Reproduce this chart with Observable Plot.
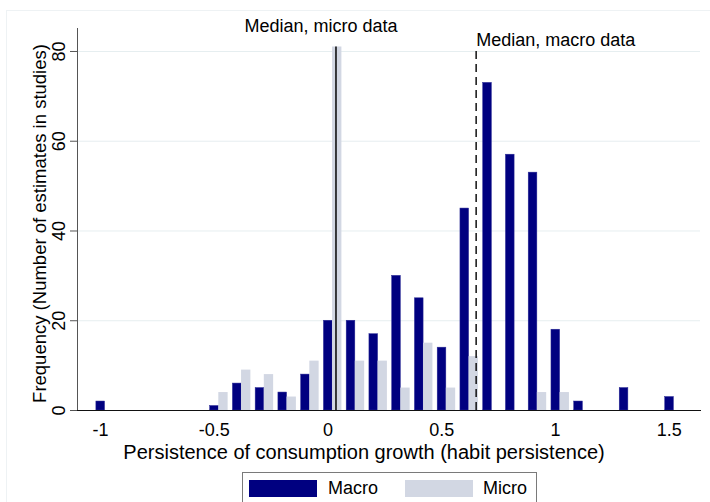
<!DOCTYPE html>
<html>
<head>
<meta charset="utf-8">
<script src="https://cdn.jsdelivr.net/npm/d3@7"></script>
<script src="https://cdn.jsdelivr.net/npm/@observablehq/plot@0.6"></script>
<style>
  html, body { margin: 0; padding: 0; background: #fff; }
  body { width: 710px; height: 502px; position: relative; overflow: hidden; font-family: "Liberation Sans", Arial, sans-serif; }
  #frame { position: absolute; left: 6px; top: 10px; width: 720px; height: 600px; border-top: 1px solid #eef2f4; border-left: 1px solid #eef2f4; }
  #chart { position: absolute; left: 0; top: 0; }
  #legend { position: absolute; left: 242px; top: 472px; width: 293px; height: 34px; border: 1px solid #7a7a7a; background: #fff; }
  .sw { position: absolute; top: 7px; width: 68px; height: 17px; }
  .lt { position: absolute; top: 4px; font-size: 18px; line-height: 22px; color: #000; }
</style>
</head>
<body>
<div id="frame"></div>
<div id="chart"></div>
<div id="legend"></div>
<script>
// Bin values (persistence of consumption growth)
const bins = [-1, -0.5, -0.4, -0.3, -0.2, -0.1, 0, 0.1, 0.2, 0.3, 0.4, 0.5, 0.6, 0.7, 0.8, 0.9, 1.0, 1.1, 1.3, 1.5];
// Frequencies
const macroFreq = [2, 1, 6, 5, 4, 8, 20, 20, 17, 30, 25, 14, 45, 73, 57, 53, 18, 2, 5, 3];
const microFreq = [0, 4, 9, 8, 3, 11, 81, 11, 11, 5, 15, 5, 12, 0, 0, 4, 4, 0, 0, 0];
// Medians
const microMedian = 0.035;
const macroMedian = 0.651;
const microMedianTop = 81;
const macroMedianTop = 80;
// Axis ticks
const yTicks = [0, 20, 40, 60, 80];
const xTicks = [-1, -0.5, 0, 0.5, 1, 1.5];
const xTickLabels = ["-1", "-0.5", "0", "0.5", "1", "1.5"];
const seriesNames = ["Macro", "Micro"];
const colors = ["#000080", "#d2d7e3"];
const xTitle = "Persistence of consumption growth (habit persistence)";
const yTitle = "Frequency (Number of estimates in studies)";

const rows = bins.map((b, i) => ({bin: b, macro: macroFreq[i], micro: microFreq[i]}));
const xDomain = [-1.101, 1.637];
const yDomain = [0, 85.12];

const chart = Plot.plot({
  width: 710,
  height: 470,
  marginLeft: 77,
  marginRight: 10,
  marginTop: 28,
  marginBottom: 60,
  x: {domain: xDomain},
  y: {domain: yDomain},
  style: {fontFamily: "'Liberation Sans', Arial, sans-serif", fontSize: "18px", color: "#000", background: "transparent", overflow: "visible"},
  marks: [
    Plot.ruleY(yTicks.filter(d => d > 0), {y: d => d, stroke: "#e6eef0", strokeWidth: 1}),
    Plot.rectY(rows.filter(d => d.macro > 0), {x1: d => d.bin - 0.018, x2: d => d.bin + 0.02, y1: 0, y2: "macro", fill: colors[0], stroke: "#2a2a95", strokeWidth: 0.5}),
    Plot.rectY(rows.filter(d => d.micro > 0), {x1: d => d.bin + 0.02, x2: d => d.bin + 0.061, y1: 0, y2: "micro", fill: colors[1]}),
    Plot.ruleX([microMedian], {x: d => d, y1: 0, y2: microMedianTop, stroke: "#111", strokeWidth: 1.6}),
    Plot.ruleX([macroMedian], {x: d => d, y1: 0, y2: macroMedianTop, stroke: "#111", strokeWidth: 1.5, strokeDasharray: "8,5"}),
    Plot.frame({anchor: "left", stroke: "#555"}),
    Plot.frame({anchor: "bottom", stroke: "#111"}),
    Plot.axisY({ticks: yTicks, tickSize: 7, tickFormat: () => "", stroke: "#555"}),
    Plot.text(yTicks, {y: d => d, frameAnchor: "left", text: d => String(d), rotate: -90, dx: -18, textAnchor: "middle", lineAnchor: "middle", fontSize: 18}),
    Plot.axisX({ticks: xTicks, tickSize: 0, tickPadding: 13, tickFormat: (d, i) => xTickLabels[i], fontSize: 18, label: null}),
    Plot.text([xTitle], {frameAnchor: "bottom", dy: 42, dx: -25, text: d => d, textAnchor: "middle", lineAnchor: "middle", fontSize: 20}),
    Plot.text([yTitle], {frameAnchor: "left", dx: -37, dy: 4, text: d => d, rotate: -90, textAnchor: "middle", lineAnchor: "middle", fontSize: 18.5}),
    Plot.text(["Median, micro data"], {x: microMedian, y: yDomain[1], dy: -2, dx: -15, text: d => d, textAnchor: "middle", lineAnchor: "middle", fontSize: 18}),
    Plot.text(["Median, macro data"], {x: macroMedian, y: yDomain[1], dy: 12, text: d => d, textAnchor: "start", lineAnchor: "middle", fontSize: 18})
  ]
});
document.getElementById("chart").appendChild(chart);

const legend = document.getElementById("legend");
const swLeft = [6, 162];
const txLeft = [85, 240];
seriesNames.forEach((name, i) => {
  const sw = document.createElement("div");
  sw.className = "sw";
  sw.style.left = swLeft[i] + "px";
  sw.style.background = colors[i];
  legend.appendChild(sw);
  const t = document.createElement("div");
  t.className = "lt";
  t.style.left = txLeft[i] + "px";
  t.textContent = name;
  legend.appendChild(t);
});
</script>
</body>
</html>
